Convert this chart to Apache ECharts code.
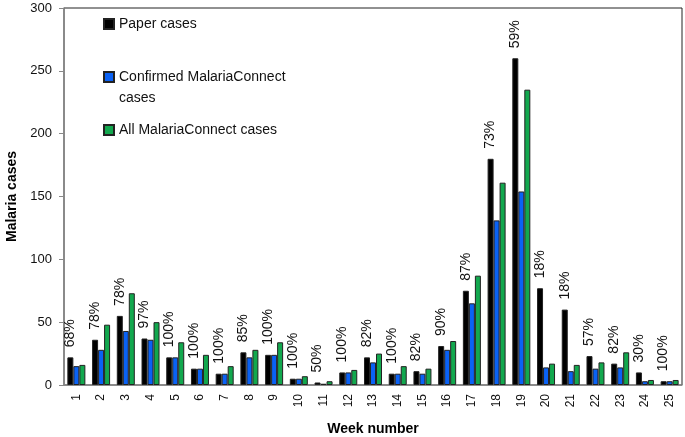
<!DOCTYPE html>
<html>
<head>
<meta charset="utf-8">
<script src="https://cdn.jsdelivr.net/npm/echarts@6/dist/echarts.min.js"></script>
<style>
html,body{margin:0;padding:0;background:#fff;}
#c{width:685px;height:437px;}
</style>
</head>
<body>
<div id="c"></div>
<script>
var weeks = ['1','2','3','4','5','6','7','8','9','10','11','12','13','14','15','16','17','18','19','20','21','22','23','24','25'];
var paperCases = [22,36,55,37,22,13,9,26,24,5,2,10,22,9,11,31,75,180,260,77,60,23,17,10,3];
var confirmedCases = [15,28,43,36,22,13,9,22,24,5,1,10,18,9,9,28,65,131,154,14,11,13,14,3,3];
var allCases = [16,48,73,50,34,24,15,28,34,7,3,12,25,15,13,35,87,161,235,17,16,18,26,4,4];
var percentLabels = ['68%','78%','78%','97%','100%','100%','100%','85%','100%','100%','50%','100%','82%','100%','82%','90%','87%','73%','59%','18%','18%','57%','82%','30%','100%'];
var yTicks = [0,50,100,150,200,250,300];

var FONT = 'Liberation Sans';
var chart = echarts.init(document.getElementById('c'), null, {renderer:'canvas'});

function legendItem(name, top) {
  return {
    data: [name],
    orient: 'vertical',
    left: 103,
    top: top,
    padding: 0,
    itemWidth: 10,
    itemHeight: 10,
    itemGap: 0,
    icon: 'rect',
    selectedMode: false,
    textStyle: {fontFamily: FONT, fontSize: 14, color: '#111', lineHeight: 21},
    formatter: function(n){ return n === 'Confirmed MalariaConnect cases' ? ' \nConfirmed MalariaConnect\ncases' : n; }
  };
}

var option = {
  animation: false,
  backgroundColor: '#fff',
  grid: {left: 64, top: 8, width: 618, height: 377, outerBoundsMode: 'none', containLabel: false,
         show: true, borderColor: '#222', borderWidth: 1, backgroundColor: 'transparent'},
  legend: [
    legendItem('Paper cases', 13.5),
    legendItem('Confirmed MalariaConnect cases', 45.5),
    legendItem('All MalariaConnect cases', 119.5)
  ],
  xAxis: {
    type: 'category',
    data: weeks,
    name: 'Week number',
    nameLocation: 'middle',
    nameGap: 37,
    nameTextStyle: {fontFamily: FONT, fontSize: 14, fontWeight: 'bold', color: '#000'},
    axisLine: {lineStyle: {color: '#888', width: 1.5}},
    axisTick: {show: false},
    axisLabel: {rotate: 90, fontFamily: FONT, fontSize: 12, color: '#111', margin: 9, interval: 0},
    splitLine: {show: false}
  },
  yAxis: {
    type: 'value',
    min: 0,
    max: 300,
    interval: 50,
    name: 'Malaria cases',
    nameLocation: 'middle',
    nameGap: 42,
    nameTextStyle: {fontFamily: FONT, fontSize: 14, fontWeight: 'bold', color: '#000'},
    axisLine: {show: true, lineStyle: {color: '#888', width: 1.5}},
    axisTick: {show: true, length: 5, lineStyle: {color: '#888'}},
    axisLabel: {fontFamily: FONT, fontSize: 13, color: '#111', margin: 12,
      formatter: function(v){ return yTicks.indexOf(v) >= 0 ? String(v) : ''; }},
    splitLine: {show: false}
  },
  series: [
    {
      name: 'Paper cases', type: 'bar', data: paperCases, barWidth: 6, barGap: '0%',
      itemStyle: {color: '#000000', borderColor: '#222', borderWidth: 1},
      label: {
        show: true, position: 'top', rotate: 90, align: 'left', verticalAlign: 'middle', distance: 10,
        fontFamily: FONT, fontSize: 14, color: '#111',
        formatter: function(p){ return percentLabels[p.dataIndex]; }
      }
    },
    {
      name: 'Confirmed MalariaConnect cases', type: 'bar', data: confirmedCases, barWidth: 6, barGap: '0%',
      itemStyle: {color: '#0a62f5', borderColor: '#222', borderWidth: 1}
    },
    {
      name: 'All MalariaConnect cases', type: 'bar', data: allCases, barWidth: 6, barGap: '0%',
      itemStyle: {color: '#12a84e', borderColor: '#222', borderWidth: 1}
    }
  ]
};
chart.setOption(option);
</script>
</body>
</html>
